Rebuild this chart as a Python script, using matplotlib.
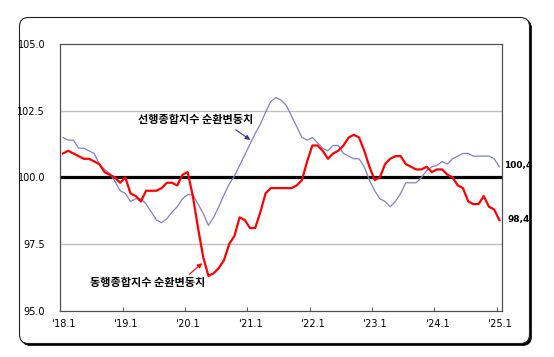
import matplotlib
matplotlib.use('Agg')
import matplotlib.pyplot as plt
from matplotlib.patches import FancyBboxPatch
from matplotlib.transforms import IdentityTransform

# monthly cycle components, 2018.1 ~ 2025.1
leading = [101.5, 101.4, 101.4, 101.1, 101.1, 101.0, 100.9, 100.5, 100.3, 100.15,
           99.85, 99.5, 99.4, 99.1, 99.2, 99.2, 99.0, 98.7, 98.4, 98.3,
           98.45, 98.7, 98.9, 99.2, 99.35, 99.35, 99.0, 98.65, 98.2, 98.5,
           98.9, 99.35, 99.75, 100.05, 100.45, 100.85, 101.25, 101.65, 102.0, 102.45,
           102.85, 103.0, 102.9, 102.7, 102.3, 101.9, 101.5, 101.4, 101.5, 101.3,
           101.1, 101.0, 101.2, 101.2, 100.9, 100.8, 100.7, 100.7, 100.4, 99.9,
           99.5, 99.2, 99.1, 98.9, 99.1, 99.4, 99.8, 99.8, 99.8, 100.0,
           100.25, 100.4, 100.45, 100.6, 100.5, 100.7, 100.8, 100.9, 100.9, 100.8,
           100.8, 100.8, 100.8, 100.7, 100.4]

coincident = [100.9, 101.0, 100.9, 100.8, 100.7, 100.7, 100.6, 100.5, 100.2, 100.1,
              100.0, 99.8, 100.0, 99.4, 99.3, 99.1, 99.5, 99.5, 99.5, 99.6,
              99.8, 99.8, 99.7, 100.1, 100.2, 99.3, 98.1, 97.0, 96.3, 96.4,
              96.6, 96.9, 97.5, 97.8, 98.5, 98.4, 98.1, 98.1, 98.7, 99.4,
              99.6, 99.6, 99.6, 99.6, 99.6, 99.7, 99.9, 100.6, 101.2, 101.2,
              101.0, 100.7, 100.9, 101.0, 101.2, 101.5, 101.6, 101.5, 101.0, 100.4,
              99.9, 100.0, 100.5, 100.7, 100.8, 100.8, 100.5, 100.4, 100.3, 100.3,
              100.4, 100.2, 100.3, 100.3, 100.1, 100.0, 99.7, 99.6, 99.1, 99.0,
              99.0, 99.3, 98.9, 98.8, 98.4]

year_labels = ['\u201818.1', '\u201819.1', '\u201820.1', '\u201821.1',
               '\u201822.1', '\u201823.1', '\u201824.1', '\u201825.1']
y_ticks = [95.0, 97.5, 100.0, 102.5, 105.0]

lead_name = '선행종합지수 순환변동치'
coin_name = '동행종합지수 순환변동치'
kfont = ['Noto Sans CJK KR', 'DejaVu Sans']

months = list(range(len(leading)))

fig = plt.figure(figsize=(5.54, 3.57), dpi=100)
fig.patch.set_facecolor('white')

# rounded frame with a small drop shadow (pixel coords)
shadow = FancyBboxPatch((21.5, 11.5), 510, 326, boxstyle='round,pad=0,rounding_size=9',
                        transform=IdentityTransform(), facecolor='black',
                        edgecolor='black', lw=0.5, zorder=-2)
frame = FancyBboxPatch((19.5, 13.5), 510, 326, boxstyle='round,pad=0,rounding_size=9',
                       transform=IdentityTransform(), facecolor='white',
                       edgecolor='#202020', lw=0.8, zorder=-1)
fig.patches.extend([shadow, frame])

ax = fig.add_axes([0.109, 0.130, 0.797, 0.746])
ax.set_facecolor('white')

for v in [97.5, 102.5]:
    ax.axhline(v, color='#c0c0c0', lw=1.0, zorder=1)
ax.axhline(100, color='black', lw=2.3, zorder=2)

ax.plot(months, leading, color='#8080c8', lw=0.9, zorder=3)
ax.plot(months, coincident, color='#ff0000', lw=1.6, zorder=4)

ax.set_xlim(-0.5, 84.5)
ax.set_ylim(95, 105)

ax.set_yticks(y_ticks)
ax.set_yticklabels([f'{v:.1f}' for v in y_ticks])
ax.tick_params(axis='y', length=0, pad=11, labelsize=7)

ax.set_xticks(months[::12])
ax.set_xticklabels(year_labels)
ax.set_xticks([m - 0.5 for m in months[::12]], minor=True)
ax.tick_params(axis='x', which='major', length=0, pad=6, labelsize=7)
ax.tick_params(axis='x', which='minor', length=3, direction='in', color='#404040')

for s in ax.spines.values():
    s.set_color('#505050')
    s.set_linewidth(0.9)

# series labels with arrows
ax.text(25.6, 102.18, lead_name, fontsize=8, fontweight='bold', family=kfont,
        ha='center', va='center')
ax.annotate('', xy=(36.5, 101.35), xytext=(32.8, 101.85),
            arrowprops=dict(arrowstyle='-|>', color='#333399', lw=0.8, mutation_scale=7))

ax.text(16.3, 96.04, coin_name, fontsize=8, fontweight='bold', family=kfont,
        ha='center', va='center')
ax.annotate('', xy=(27.2, 96.85), xytext=(23.9, 96.29),
            arrowprops=dict(arrowstyle='-|>', color='#ff0000', lw=0.8, mutation_scale=7))

# last values
ax.text(84.9, 100.44, '100,4', fontsize=6.5, fontweight='bold', ha='left',
        va='center', clip_on=False)
ax.text(85.6, 98.41, '98,4', fontsize=6.5, fontweight='bold', ha='left',
        va='center', clip_on=False)

plt.savefig('out.png', dpi=100)
